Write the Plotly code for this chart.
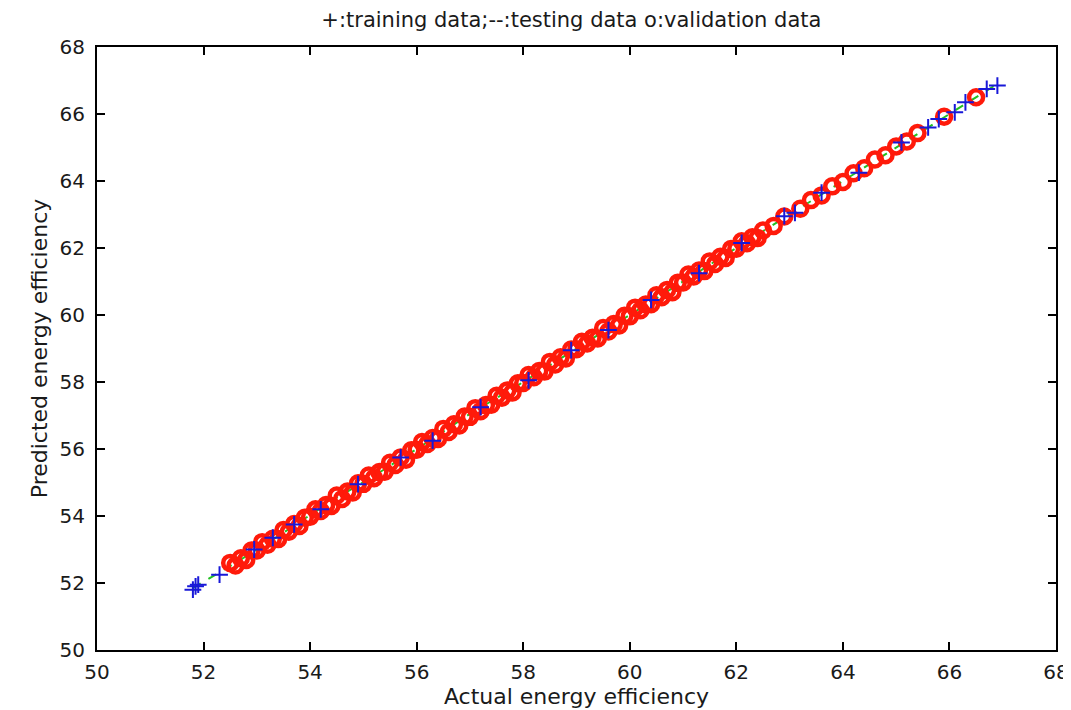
import plotly.graph_objects as go

# Training data (+ markers)
train_actual = [51.80, 51.85, 51.90, 52.30, 52.95, 53.30, 53.70, 54.20, 54.90, 55.70,
                56.30, 57.20, 58.10, 58.90, 59.60, 60.40, 61.30, 62.10, 62.90, 63.10,
                63.60, 64.30, 65.10, 65.60, 65.80, 66.10, 66.30, 66.70, 66.90]
train_pred = [51.80, 51.90, 51.95, 52.25, 53.00, 53.35, 53.75, 54.20, 54.95, 55.75,
              56.25, 57.25, 58.05, 58.95, 59.55, 60.45, 61.25, 62.15, 62.95, 63.05,
              63.65, 64.25, 65.15, 65.60, 65.85, 66.05, 66.35, 66.75, 66.85]

# Testing data (dashed line)
test_actual = [51.80, 52.60, 53.50, 54.40, 55.20, 56.10, 57.00, 57.90, 58.80, 59.70,
               60.60, 61.50, 62.40, 63.30, 64.20, 65.10, 66.00, 66.50, 66.90]
test_pred = [51.85, 52.60, 53.50, 54.45, 55.20, 56.10, 57.05, 57.90, 58.80, 59.70,
             60.60, 61.50, 62.40, 63.30, 64.20, 65.10, 66.00, 66.50, 66.90]

# Validation data (o markers)
val_actual = [52.5, 52.6, 52.7, 52.8, 52.9, 53.0, 53.1, 53.2, 53.3, 53.4,
              53.5, 53.6, 53.7, 53.8, 53.9, 54.0, 54.1, 54.2, 54.3, 54.4,
              54.5, 54.6, 54.7, 54.8, 54.9, 55.0, 55.1, 55.2, 55.3, 55.4,
              55.5, 55.6, 55.7, 55.8, 55.9, 56.0, 56.1, 56.2, 56.3, 56.4,
              56.5, 56.6, 56.7, 56.8, 56.9, 57.0, 57.1, 57.2, 57.3, 57.4,
              57.5, 57.6, 57.7, 57.8, 57.9, 58.0, 58.1, 58.2, 58.3, 58.4,
              58.5, 58.6, 58.7, 58.8, 58.9, 59.0, 59.1, 59.2, 59.3, 59.4,
              59.5, 59.6, 59.7, 59.8, 59.9, 60.0, 60.1, 60.2, 60.3, 60.4,
              60.5, 60.6, 60.7, 60.8, 60.9, 61.0, 61.1, 61.2, 61.3, 61.4,
              61.5, 61.6, 61.7, 61.8, 61.9, 62.0, 62.1, 62.2, 62.3, 62.4,
              62.5, 62.7, 62.9, 63.2, 63.4, 63.6, 63.8, 64.0, 64.2, 64.4,
              64.6, 64.8, 65.0, 65.2, 65.4, 65.9, 66.5]
val_pred = [52.60, 52.52, 52.74, 52.69, 52.97, 52.97, 53.22, 53.14, 53.32, 53.31,
            53.58, 53.53, 53.76, 53.70, 53.95, 53.98, 54.20, 54.15, 54.33, 54.30,
            54.61, 54.51, 54.73, 54.70, 54.98, 54.96, 55.21, 55.13, 55.31, 55.32,
            55.59, 55.52, 55.75, 55.68, 55.96, 55.98, 56.21, 56.15, 56.33, 56.30,
            56.60, 56.51, 56.74, 56.70, 56.97, 56.96, 57.22, 57.13, 57.31, 57.32,
            57.59, 57.53, 57.75, 57.69, 57.96, 57.97, 58.21, 58.14, 58.33, 58.31,
            58.60, 58.52, 58.74, 58.70, 58.97, 58.98, 59.20, 59.15, 59.32, 59.30,
            59.61, 59.51, 59.73, 59.69, 59.98, 59.96, 60.22, 60.14, 60.31, 60.32,
            60.59, 60.53, 60.75, 60.68, 60.96, 60.97, 61.21, 61.15, 61.33, 61.31,
            61.60, 61.52, 61.74, 61.70, 61.97, 61.98, 62.20, 62.14, 62.32, 62.30,
            62.52, 62.66, 62.94, 63.17, 63.43, 63.57, 63.84, 63.97, 64.23, 64.38,
            64.64, 64.77, 65.03, 65.18, 65.43, 65.92, 66.50]

FONT = "DejaVu Sans, Verdana, sans-serif"
TXT = "#1a1a1a"

fig = go.Figure()

fig.add_trace(go.Scatter(
    x=test_actual, y=test_pred, mode="lines",
    line=dict(color="#22c022", width=2, dash="dash"),
    name="testing", showlegend=False))

fig.add_trace(go.Scatter(
    x=val_actual, y=val_pred, mode="markers",
    marker=dict(symbol="circle-open", size=14, color="#ff1a0a",
                line=dict(width=4.5, color="#ff1a0a")),
    name="validation", showlegend=False))

fig.add_trace(go.Scatter(
    x=train_actual, y=train_pred, mode="markers",
    marker=dict(symbol="cross-thin-open", size=12, color="#1818d8",
                line=dict(width=2, color="#1818d8")),
    name="training", showlegend=False))

axis_common = dict(
    showline=True, linecolor="black", linewidth=2, mirror="ticks",
    ticks="inside", ticklen=8, tickwidth=2, tickcolor="black",
    showgrid=False, zeroline=False, automargin=False,
    ticklabeloverflow="allow",
    tickfont=dict(family=FONT, size=20, color=TXT),
    dtick=2,
)

# page has an 8px body margin, so the figure is sized/positioned to compensate
fig.update_layout(
    width=1063, height=702,
    margin=dict(l=89, r=15, t=39, b=60),
    paper_bgcolor="white", plot_bgcolor="white",
    title=dict(text="+:training data;--:testing data o:validation data",
               x=0.530, xanchor="center", y=0.984, yanchor="middle", automargin=False,
               font=dict(family=FONT, size=21, color=TXT)),
    xaxis=dict(range=[50, 68], tick0=50, ticklabelstandoff=3,
               title=dict(text="Actual energy efficiency", standoff=2,
                          font=dict(family=FONT, size=22, color=TXT)),
               **axis_common),
    yaxis=dict(range=[50, 68], tick0=50, ticklabelstandoff=6,
               title=dict(text="Predicted energy efficiency", standoff=6,
                          font=dict(family=FONT, size=22, color=TXT)),
               **axis_common),
)

fig.write_html("out.html")
